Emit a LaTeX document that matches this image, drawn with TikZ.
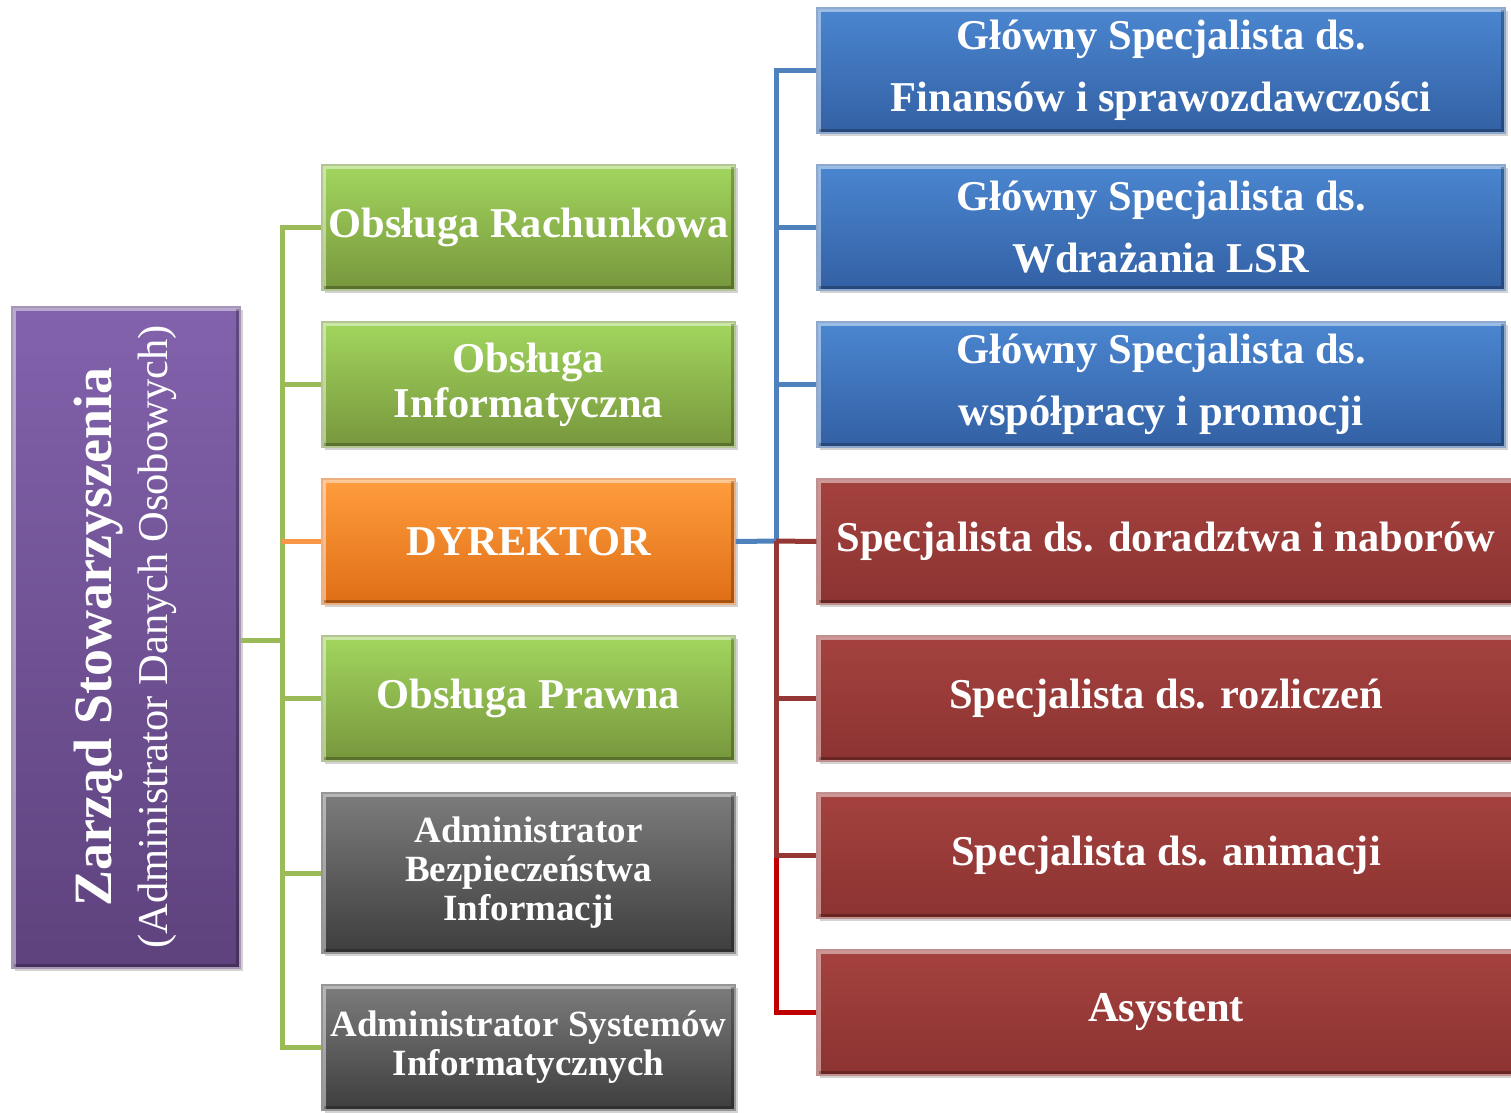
\documentclass[tikz,border=0pt]{standalone}
\usepackage{fontspec}
\setmainfont{Liberation Serif}
\usetikzlibrary{shadows}
\definecolor{gTop}{HTML}{A2D65E}
\definecolor{gBot}{HTML}{77963C}
\definecolor{oTop}{HTML}{FF9D3E}
\definecolor{oBot}{HTML}{DF6E16}
\definecolor{pTop}{HTML}{8262AC}
\definecolor{pBot}{HTML}{5E427D}
\definecolor{bTop}{HTML}{4A86D0}
\definecolor{bBot}{HTML}{3360A4}
\definecolor{rTop}{HTML}{A4423F}
\definecolor{rBot}{HTML}{8C3331}
\definecolor{kTop}{HTML}{7C7C7C}
\definecolor{kBot}{HTML}{3E3E3E}
\definecolor{lGreen}{HTML}{9BBB59}
\definecolor{lOrange}{HTML}{F79646}
\definecolor{lBlue}{HTML}{4F81BD}
\definecolor{lRed}{HTML}{953735}
\definecolor{lBright}{HTML}{C00000}
\tikzset{
  unit/.style={inner sep=0pt, text=white, font=\bfseries\fontsize{42.5}{48}\selectfont,
    align=center, draw=#1!55!white, line width=1.2pt,
    drop shadow={shadow xshift=3pt, shadow yshift=-3pt, opacity=0.35},
    path picture={
      \draw[white, opacity=0.45, line width=4pt]
        ([xshift=2pt,yshift=1pt]path picture bounding box.south west) --
        ([xshift=2pt,yshift=-2pt]path picture bounding box.north west) --
        ([xshift=-1pt,yshift=-2pt]path picture bounding box.north east);
      \draw[black, opacity=0.25, line width=4pt]
        ([xshift=-2pt,yshift=-2pt]path picture bounding box.north east) --
        ([xshift=-2pt,yshift=2pt]path picture bounding box.south east) --
        ([xshift=2pt,yshift=2pt]path picture bounding box.south west);
    }},
  greenbox/.style={unit=gBot, top color=gTop, bottom color=gBot, minimum width=413pt, minimum height=125pt},
  orangebox/.style={unit=oBot, top color=oTop, bottom color=oBot, minimum width=413pt, minimum height=125pt},
  graybox/.style={unit=kBot, top color=kTop, bottom color=kBot, minimum width=413pt,
    font=\bfseries\fontsize{37}{39}\selectfont},
  bluebox/.style={unit=bBot, top color=bTop, bottom color=bBot, minimum width=688pt, minimum height=125pt,
    font=\bfseries\fontsize{42.5}{62}\selectfont},
  redbox/.style={unit=rBot, top color=rTop, bottom color=rBot, minimum width=698pt, minimum height=125pt},
  purplebox/.style={unit=pBot, top color=pTop, bottom color=pBot, minimum width=228pt, minimum height=661pt},
  conn/.style={line width=5pt, line join=miter},
}
\begin{document}
\begin{tikzpicture}[x=1pt,y=-1pt]
\useasboundingbox (0,0) rectangle (1511,1112);

\coordinate (lj) at (282,640);
\coordinate (rj) at (776,541);

% left column
\node[purplebox] (zarzad) at (126,637.5) {};
\node[rotate=90, text=white, font=\bfseries\fontsize{54}{60}\selectfont] (zt1) at (99,637) {Zarząd Stowarzyszenia};
\node[rotate=90, text=white, font=\fontsize{42.5}{48}\selectfont] (zt2) at (157,637) {(Administrator Danych Osobowych)};

% middle column
\node[greenbox] (rach) at (528.5,227.5) {Obsługa Rachunkowa};
\node[greenbox, font=\bfseries\fontsize{42.5}{45}\selectfont] (info) at (528.5,384.5) {Obsługa\\Informatyczna};
\node[orangebox] (dyr) at (528.5,541.5) {DYREKTOR};
\node[greenbox] (praw) at (528.5,698.5) {Obsługa Prawna};
\node[graybox, minimum height=160pt] (abi) at (528.5,873) {Administrator\\Bezpieczeństwa\\Informacji};
\node[graybox, minimum height=125pt] (asi) at (528.5,1047.5) {Administrator Systemów\\Informatycznych};

% right column
\node[bluebox] (fin) at (1161,70.5) {Główny Specjalista ds.\\Finansów i sprawozdawczości};
\node[bluebox] (lsr) at (1161,227.5) {Główny Specjalista ds.\\Wdrażania LSR};
\node[bluebox] (prom) at (1161,384.5) {Główny Specjalista ds.\\współpracy i promocji};
\node[redbox] (dor) at (1166,541.5) {Specjalista ds. doradztwa i naborów};
\node[redbox] (roz) at (1166,698.5) {Specjalista ds. rozliczeń};
\node[redbox] (ani) at (1166,855.5) {Specjalista ds. animacji};
\node[redbox] (asy) at (1166,1012.5) {Asystent};

% left tree
\draw[conn, lGreen] (zarzad.east |- lj) -- (lj);
\draw[conn, lGreen] (rach.west) -| (lj);
\draw[conn, lGreen] (info.west) -| (lj);
\draw[conn, lGreen] (praw.west) -| (lj);
\draw[conn, lGreen] (abi.west) -| (lj);
\draw[conn, lGreen] (asi.west) -| (lj);
\draw[conn, lOrange] (dyr.west) -- (lj |- dyr.west);

% right tree
\draw[conn, lBlue] (dyr.east) -- (rj);
\draw[conn, lBlue] (fin.west) -| (rj);
\draw[conn, lBlue] (lsr.west) -| (rj);
\draw[conn, lBlue] (prom.west) -| (rj);
\draw[conn, lBright] (asy.west) -| (rj);
\draw[conn, lRed] (ani.west) -| (rj);
\draw[conn, lRed] (roz.west) -| (rj);
\draw[conn, lRed] (dor.west) -- (rj);
\end{tikzpicture}
\end{document}
